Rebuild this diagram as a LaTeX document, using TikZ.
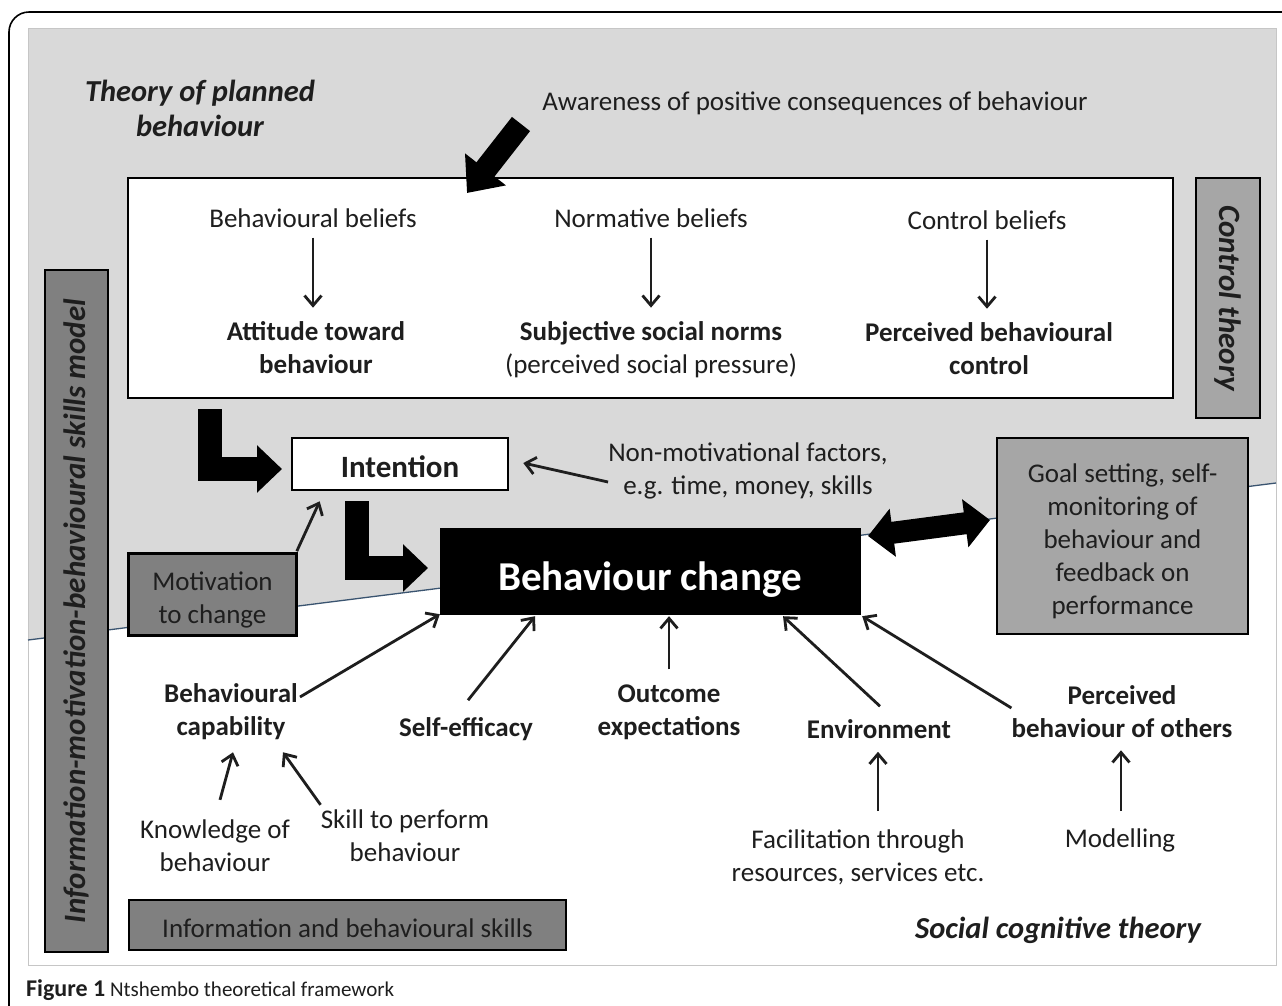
\documentclass[tikz,border=0pt]{standalone}
\usepackage{fontspec}
\setmainfont{Carlito}
\usetikzlibrary{arrows.meta,calc}
\definecolor{bgpanel}{HTML}{D9D9D9}
\definecolor{boxdark}{HTML}{808080}
\definecolor{boxlight}{HTML}{A6A6A6}
\definecolor{txt}{HTML}{1E1E1E}
\definecolor{slopeline}{HTML}{3A5470}
\begin{document}
\begin{tikzpicture}[x=1pt,y=-1pt,
  reg/.style={font=\fontsize{27}{33}\selectfont, text=txt, align=center, inner sep=0pt},
  bld/.style={font=\fontsize{27}{33}\selectfont\bfseries, text=txt, align=center, inner sep=0pt},
  theo/.style={font=\fontsize{30.5}{35}\selectfont\bfseries\itshape, text=txt, align=center, inner sep=0pt},
  boxed/.style={draw=black, line width=2.6pt, inner sep=0pt, align=center},
  arr/.style={line width=2.8pt, draw=txt, -{Straight Barb[length=10pt,width=17pt]}},
  blockarr/.style={line width=24pt, line join=miter, -{Triangle[length=25pt,width=46pt]}},
]
\useasboundingbox (0,0) rectangle (1282,1005);
\fill[white] (0,0) rectangle (1282,1005);
% outer frame
\draw[line width=1.6pt, rounded corners=20pt] (9,1010) -- (9,12) -- (1300,12);
% panel
\fill[bgpanel] (28,28) -- (1276,28) -- (1276,483) -- (28,640) -- cycle;
\draw[gray!45, line width=1pt] (28,28) rectangle (1276,965);
\draw[slopeline, line width=1.3pt] (28,640) -- (1276,483);

% theory labels
\node[theo] (tpb) at (200,108) {Theory of planned\\behaviour};
\node[reg] (aware) at (815,103) {Awareness of positive consequences of behaviour};

% TPB box
\node[boxed, fill=white, minimum width=1045pt, minimum height=220pt] (tpbbox) at (650.5,288) {};
\node[reg] (bb) at (313,218) {Behavioural beliefs};
\node[reg] (nb) at (651,218) {Normative beliefs};
\node[reg] (cb) at (987,220) {Control beliefs};
\node[bld] (att) at (316,348) {Attitude toward\\behaviour};
\node[reg] (ssn) at (651,350) {\textbf{Subjective social norms}\\(perceived social pressure)};
\node[bld] (pbc) at (989,349) {Perceived behavioural\\control};
\draw[arr] ($(bb.south)+(0,10)$) -- ($(bb.south |- att.north)+(0,-14)$);
\draw[arr] ($(nb.south)+(0,10)$) -- ($(nb.south |- ssn.north)+(0,-14)$);
\draw[arr] ($(cb.south)+(0,10)$) -- ($(cb.south |- pbc.north)+(0,-14)$);

% big diagonal arrow
\coordinate (bigs) at (521,124);
\coordinate (bigt) at (467,193);
\draw[line width=23pt, -{Triangle[length=30pt,width=50pt]}] (bigs) -- (bigt);

% side boxes
\node[boxed, fill=boxlight, rotate=-90, minimum width=240pt, minimum height=64pt,
      font=\fontsize{31}{35}\selectfont\bfseries\itshape, text=txt] (ctrl) at (1228,298) {Control theory};
\node[boxed, fill=boxdark, rotate=90, minimum width=682pt, minimum height=63pt,
      font=\fontsize{31}{35}\selectfont\bfseries\itshape, text=txt] (imb) at (76.5,611) {Information-motivation-behavioural skills model};

% intention
\node[boxed, fill=white, minimum width=216pt, minimum height=52pt,
      font=\fontsize{31}{36}\selectfont\bfseries, text=txt] (intent) at (400,464) {\raisebox{-3pt}[\height][\depth]{Intention}};
\node[reg] (nonmot) at (748,471) {Non-motivational factors,\\e.g. time, money, skills};
\draw[arr] ($(nonmot.west)+(0,11)$) -- ($(intent.east)+(14,-1)$);

% L arrows
\coordinate (L1s) at (210,409);
\coordinate (L1t) at (282,469);
\draw[blockarr] (L1s) |- (L1t);
\coordinate (L2s) at (357,501);
\coordinate (L2t) at (428,568);
\draw[blockarr] (L2s) |- (L2t);

% behaviour change
\node[fill=black, draw=black, minimum width=420pt, minimum height=86pt,
      text=white, font=\fontsize{41}{48}\selectfont\bfseries] (bc) at (650,571)
      {\raisebox{-9pt}[\height][\depth]{Behaviour change}};

% goal box
\node[boxed, draw=black, fill=boxlight, minimum width=251pt, minimum height=196pt] (goal) at (1122.5,536) {};
\node[reg] (goaltxt) at (1122.5,541)
      {Goal setting, self-\\monitoring of\\behaviour and\\feedback on\\performance};
\coordinate (dA) at (868,536);
\coordinate (dB) at (990,520);
\draw[line width=22pt, {Triangle[length=25pt,width=47pt]}-{Triangle[length=25pt,width=47pt]}] (dA) -- (dB);

% motivation
\node[boxed, draw=black, fill=boxdark, minimum width=168pt, minimum height=82pt] (motiv) at (212.5,594.5) {};
\node[reg] (motivtxt) at (212.5,600) {Motivation\\to change};
\draw[arr] ($(motiv.north east)+(-1,-1)$) -- ($(intent.south west)+(29,10)$);

% bottom row
\node[bld] (cap) at (231,712) {Behavioural\\capability};
\node[bld] (se) at (466,729) {Self-efficacy};
\node[bld] (oe) at (669,712) {Outcome\\expectations};
\node[bld] (env) at (879,729) {Environment};
\node[bld] (pbo) at (1122,712) {Perceived\\behaviour of others};

\draw[arr] ($(cap.east)+(2,-15)$) -- ($(bc.south west)+(0,0)$);
\draw[arr] ($(se.north)+(2,-17)$) -- ($(bc.south)+(-115,2)$);
\draw[arr] ($(oe.north)+(0,-15)$) -- ($(bc.south)+(19,2)$);
\draw[arr] ($(env.north)+(1,-13)$) -- ($(bc.south)+(133,2)$);
\draw[arr] ($(pbo.west)+(0,-4)$) -- ($(bc.south east)+(2,2)$);

\node[reg] (know) at (215,846) {Knowledge of\\behaviour};
\node[reg] (skill) at (405,836) {Skill to perform\\behaviour};
\node[reg] (facil) at (858,857) {Facilitation through\\resources, services etc.};
\node[reg] (model) at (1120,840) {Modelling};

\draw[arr] ($(know.north)+(5,-20)$) -- ($(cap.south)+(2,12)$);
\draw[arr] ($(skill.north west)+(0,-5)$) -- ($(cap.south)+(52,12)$);
\draw[arr] ($(facil.north)+(20,-18)$) -- ($(env.south)+(-1,13)$);
\draw[arr] ($(model.north)+(1,-17)$) -- ($(pbo.south)+(-1,12)$);

% bottom boxes & labels
\node[boxed, draw=black, fill=boxdark, minimum width=437pt, minimum height=50pt] (info) at (347.5,925) {};
\node[reg] (infotxt) at (347.5,928) {Information and behavioural skills};
\node[theo] (sct) at (1058,930) {Social cognitive theory};

% caption
\node[anchor=west, inner sep=0pt, font=\fontsize{21}{26}\selectfont, text=txt] (caption) at (26,990)
      {{\fontsize{24}{26}\selectfont\bfseries Figure 1} Ntshembo theoretical framework};
\end{tikzpicture}
\end{document}
